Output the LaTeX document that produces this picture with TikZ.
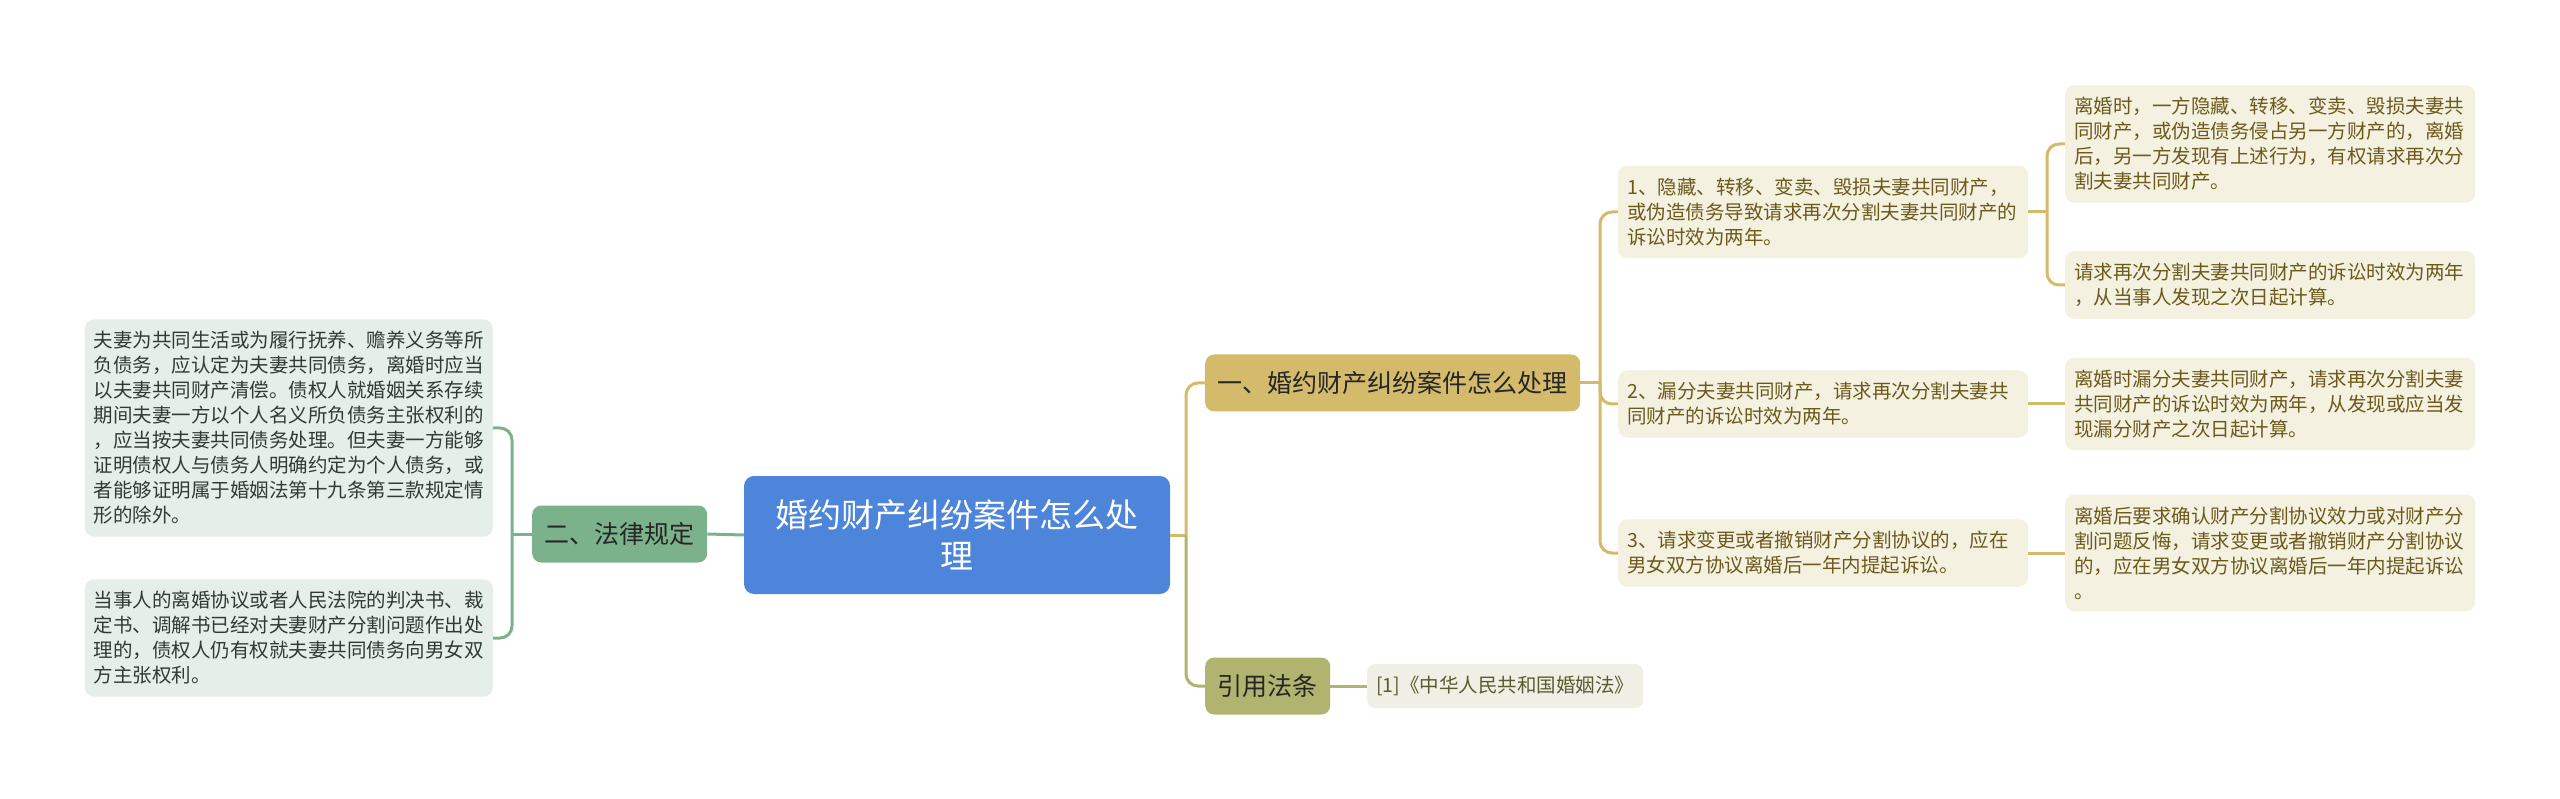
\documentclass[tikz,border=0pt]{standalone}
\usepackage{fontspec}
\setmainfont{Noto Sans CJK SC}
\usepackage{xcolor}
\usetikzlibrary{positioning}
\setlength\parindent{0pt}

\definecolor{rootblue}{HTML}{4D85DA}
\definecolor{lawgreen}{HTML}{7CB28B}
\definecolor{lleaffill}{HTML}{E5EEE8}
\definecolor{lleaftext}{HTML}{2F3B33}
\definecolor{topicgold}{HTML}{D4BB6C}
\definecolor{citeolive}{HTML}{B0B46E}
\definecolor{rleaffill}{HTML}{F4F1E1}
\definecolor{rleaftext}{HTML}{6B5A1C}
\definecolor{citefill}{HTML}{EFEFE5}
\definecolor{citetext}{HTML}{5A5A30}

\begin{document}
\begin{tikzpicture}[
  x=1pt, y=-1pt,
  root/.style={rectangle, rounded corners=10pt, fill=rootblue, text=white, font=\fontsize{33}{41}\selectfont, align=center, minimum width=426pt, minimum height=118pt},
  topic/.style={rectangle, rounded corners=9pt, text=black!85, font=\fontsize{25}{30}\selectfont, minimum height=57pt, inner xsep=12.5pt},
  leaf/.style={rectangle, rounded corners=9pt, font=\fontsize{19.5}{25}\selectfont, align=left, text width=392pt, inner xsep=9pt, inner ysep=12pt},
  lleaf/.style={leaf, fill=lleaffill, text=lleaftext, text width=390pt},
  rleaf/.style={leaf, fill=rleaffill, text=rleaftext},
  greenline/.style={draw=lawgreen, line width=3pt, rounded corners=12pt},
  goldline/.style={draw=topicgold, line width=3pt, rounded corners=12pt},
  oliveline/.style={draw=citeolive, line width=3pt, rounded corners=12pt}
]
\useasboundingbox[fill=white] (0,0) rectangle (2560,799);

% Root and main branches
\node (central) [root] at (957,535) {婚约财产纠纷案件怎么处\\理};
\node (law) [topic, fill=lawgreen, anchor=west] at (532,534) {二、法律规定};
\node (one) [topic, fill=topicgold, anchor=west] at (1205,383) {一、婚约财产纠纷案件怎么处理};
\node (cite) [topic, fill=citeolive, anchor=west] at (1205,686) {引用法条};

% Left leaves
\node (lleaf1) [lleaf, anchor=east] at (493,428) {夫妻为共同生活或为履行抚养、赡养义务等所\\负债务，应认定为夫妻共同债务，离婚时应当\\以夫妻共同财产清偿。债权人就婚姻关系存续\\期间夫妻一方以个人名义所负债务主张权利的\\，应当按夫妻共同债务处理。但夫妻一方能够\\证明债权人与债务人明确约定为个人债务，或\\者能够证明属于婚姻法第十九条第三款规定情\\形的除外。};
\node (lleaf2) [lleaf, anchor=east] at (493,638) {当事人的离婚协议或者人民法院的判决书、裁\\定书、调解书已经对夫妻财产分割问题作出处\\理的，债权人仍有权就夫妻共同债务向男女双\\方主张权利。};

% Second level
\node (n1) [rleaf, anchor=west] at (1618,212) {1、隐藏、转移、变卖、毁损夫妻共同财产，\\或伪造债务导致请求再次分割夫妻共同财产的\\诉讼时效为两年。};
\node (n2) [rleaf, anchor=west] at (1618,404) {2、漏分夫妻共同财产，请求再次分割夫妻共\\同财产的诉讼时效为两年。};
\node (n3) [rleaf, anchor=west] at (1618,553) {3、请求变更或者撤销财产分割协议的，应在\\男女双方协议离婚后一年内提起诉讼。};
\node (citeleaf) [rectangle, rounded corners=8pt, fill=citefill, text=citetext, font=\fontsize{19.5}{25}\selectfont, inner xsep=9pt, minimum height=44pt, anchor=west] at (1367,686) {[1]《中华人民共和国婚姻法》};

% Third level
\node (a1) [rleaf, anchor=west] at (2065,144) {离婚时，一方隐藏、转移、变卖、毁损夫妻共\\同财产，或伪造债务侵占另一方财产的，离婚\\后，另一方发现有上述行为，有权请求再次分\\割夫妻共同财产。};
\node (a2) [rleaf, anchor=west] at (2065,285) {请求再次分割夫妻共同财产的诉讼时效为两年\\，从当事人发现之次日起计算。};
\node (b1) [rleaf, anchor=west] at (2065,404) {离婚时漏分夫妻共同财产，请求再次分割夫妻\\共同财产的诉讼时效为两年，从发现或应当发\\现漏分财产之次日起计算。};
\node (c1) [rleaf, anchor=west] at (2065,553) {离婚后要求确认财产分割协议效力或对财产分\\割问题反悔，请求变更或者撤销财产分割协议\\的，应在男女双方协议离婚后一年内提起诉讼\\。};

% Joints of the brackets
\coordinate (gj) at (512,534);
\coordinate (cj) at (1186,535);
\coordinate (oj) at (1600,383);
\coordinate (nj) at (2047,212);

% Connectors
\draw [greenline] (central.west) -- (law.east);
\draw [greenline] (law.west) -- (gj);
\draw [greenline] (gj) |- (lleaf1.east);
\draw [greenline] (gj) |- (lleaf2.east);

\draw [goldline] (central.east) -- (cj);
\draw [goldline] (cj) |- (one.west);
\draw [oliveline] (cj) |- (cite.west);
\draw [oliveline] (cite.east) -- (citeleaf.west);

\draw [goldline] (one.east) -- (oj);
\draw [goldline] (oj) |- (n1.west);
\draw [goldline] (oj) |- (n2.west);
\draw [goldline] (oj) |- (n3.west);

\draw [goldline] (n1.east) -- (nj);
\draw [goldline] (nj) |- (a1.west);
\draw [goldline] (nj) |- (a2.west);
\draw [goldline] (n2.east) -- (b1.west);
\draw [goldline] (n3.east) -- (c1.west);

\end{tikzpicture}
\end{document}
